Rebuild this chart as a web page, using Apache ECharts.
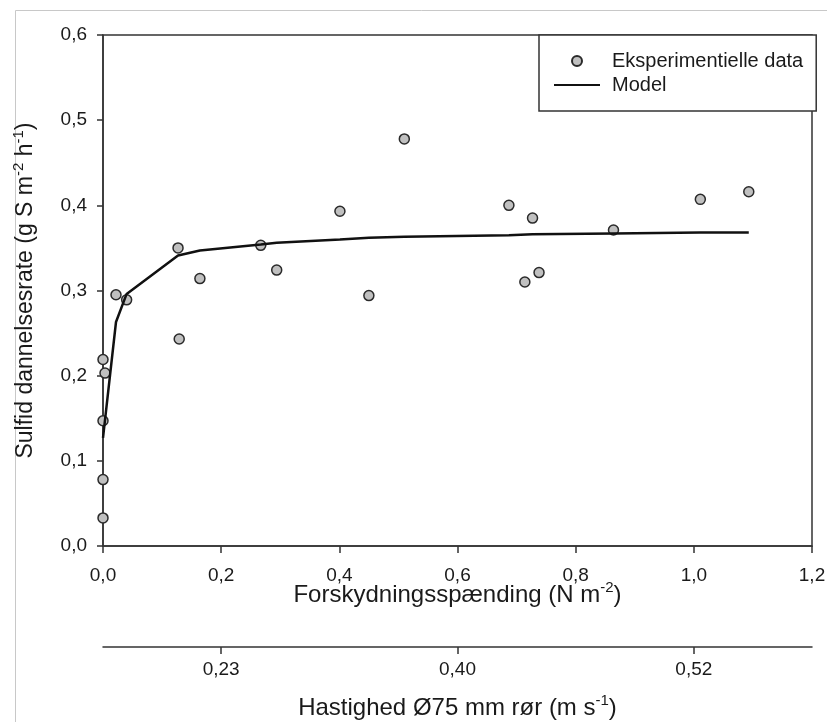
<!DOCTYPE html>
<html>
<head>
<meta charset="utf-8">
<script src="https://cdn.jsdelivr.net/npm/echarts@6/dist/echarts.min.js"></script>
<style>
  html, body { margin: 0; padding: 0; background: #fff; }
  #chart { width: 827px; height: 722px; }
</style>
</head>
<body>
<div id="chart"></div>
<script>
// Measured sulfide formation rate versus wall shear stress
const shearStress = [0, 0, 0, 0, 0.0034, 0.022, 0.040, 0.127, 0.129, 0.164, 0.267, 0.294,
                     0.401, 0.450, 0.510, 0.687, 0.714, 0.727, 0.738, 0.864, 1.011, 1.093];
const sulfideRate = [0.033, 0.078, 0.147, 0.219, 0.203, 0.295, 0.289, 0.350, 0.243, 0.314, 0.353, 0.324,
                     0.393, 0.294, 0.478, 0.400, 0.310, 0.385, 0.321, 0.371, 0.407, 0.416];

// Fitted model curve
const modelStress = [0, 0.022, 0.040, 0.127, 0.164, 0.267, 0.294, 0.401, 0.450, 0.510, 0.687, 0.727, 0.864, 1.011, 1.093];
const modelRate   = [0.127, 0.263, 0.296, 0.341, 0.347, 0.354, 0.356, 0.360, 0.362, 0.363, 0.365, 0.366, 0.367, 0.368, 0.368];

// Secondary axis: flow velocity in a 75 mm pipe, placed at the matching shear stress
const velocityTickStress = [0.2, 0.6, 1.0];
const velocityTickLabels = ['0,23', '0,40', '0,52'];

const seriesNames = ['Eksperimentielle data', 'Model'];

const FONT = '"Liberation Sans", Arial, sans-serif';
const INK = '#1a1a1a';
const AXIS = '#333';

const comma = (v, d) => v.toFixed(d).replace('.', ',');

const makeRich = (size) => ({
  t: { fontSize: size, fontFamily: FONT, color: INK, lineHeight: 30 },
  s: { fontSize: 15, fontFamily: FONT, color: INK, lineHeight: 18, verticalAlign: 'top' }
});

const chart = echarts.init(document.getElementById('chart'), null, { renderer: 'canvas' });

chart.setOption({
  animation: false,
  backgroundColor: '#fff',
  textStyle: { fontFamily: FONT },
  graphic: [{
    type: 'rect', silent: true, z: -10,
    shape: { x: 15.5, y: 10.5, width: 900, height: 800 },
    style: { fill: 'none', stroke: '#c8c8c8', lineWidth: 1 }
  }],
  grid: {
    left: 103, right: 15, top: 35, bottom: 176,
    containLabel: false, outerBoundsMode: 'none',
    show: true, borderColor: AXIS, borderWidth: 1.5, backgroundColor: 'transparent'
  },
  legend: {
    left: 539, top: 35, orient: 'vertical',
    backgroundColor: '#fff', borderColor: AXIS, borderWidth: 1.5, borderRadius: 0,
    padding: [14, 13, 14, 14],
    itemWidth: 46, itemHeight: 10, itemGap: 0,
    textStyle: { fontSize: 20, fontFamily: FONT, color: INK, lineHeight: 24, padding: [0, 0, 0, 7] },
    data: [
      { name: seriesNames[0] },
      { name: seriesNames[1], itemStyle: { opacity: 0 } }
    ]
  },
  xAxis: [{
    type: 'value', min: 0, max: 1.2, interval: 0.2, position: 'bottom',
    axisLine: { show: true, lineStyle: { color: AXIS, width: 1.5 } },
    axisTick: { show: true, inside: false, length: 7, lineStyle: { color: AXIS, width: 1.5 } },
    axisLabel: { fontSize: 19, color: INK, margin: 20, formatter: v => comma(v, 1) },
    splitLine: { show: false },
    name: '{t|Forskydningsspænding (N m}{s|-2}{t|)}',
    nameLocation: 'middle', nameGap: 34, nameMoveOverlap: false,
    nameTextStyle: { rich: makeRich(24) }
  }, {
    type: 'value', min: 0, max: 1.2, position: 'bottom', offset: 101,
    axisLine: { show: true, onZero: false, lineStyle: { color: AXIS, width: 1.5 } },
    axisTick: { show: true, length: 7, customValues: velocityTickStress, lineStyle: { color: AXIS, width: 1.5 } },
    axisLabel: {
      fontSize: 19, color: INK, margin: 13, customValues: velocityTickStress,
      formatter: v => velocityTickLabels[velocityTickStress.findIndex(s => Math.abs(s - v) < 1e-9)] || ''
    },
    splitLine: { show: false },
    name: '{t|Hastighed Ø75 mm rør (m s}{s|-1}{t|)}',
    nameLocation: 'middle', nameGap: 46, nameMoveOverlap: false,
    nameTextStyle: { rich: makeRich(24) }
  }],
  yAxis: {
    type: 'value', min: 0, max: 0.6, interval: 0.1,
    axisLine: { show: true, lineStyle: { color: AXIS, width: 1.5 } },
    axisTick: { show: true, inside: false, length: 6, lineStyle: { color: AXIS, width: 1.5 } },
    axisLabel: { fontSize: 19, color: INK, margin: 16, formatter: v => comma(v, 1) },
    splitLine: { show: false },
    name: '{t|Sulfid dannelsesrate (g S m}{s|-2}{t| h}{s|-1}{t|)}',
    nameLocation: 'middle', nameRotate: 90, nameGap: 62, nameMoveOverlap: false,
    nameTextStyle: { rich: makeRich(23) }
  },
  series: [{
    name: seriesNames[0],
    type: 'scatter',
    xAxisIndex: 0,
    data: shearStress.map((x, i) => [x, sulfideRate[i]]),
    symbol: 'circle', symbolSize: 10,
    itemStyle: { color: '#c0c0c0', borderColor: '#2a2a2a', borderWidth: 1.5, opacity: 1 },
    z: 3
  }, {
    name: seriesNames[1],
    type: 'line',
    xAxisIndex: 0,
    data: modelStress.map((x, i) => [x, modelRate[i]]),
    symbol: 'none', smooth: false,
    lineStyle: { color: '#111', width: 2.5 },
    itemStyle: { color: '#111' },
    z: 4
  }]
});
</script>
</body>
</html>
